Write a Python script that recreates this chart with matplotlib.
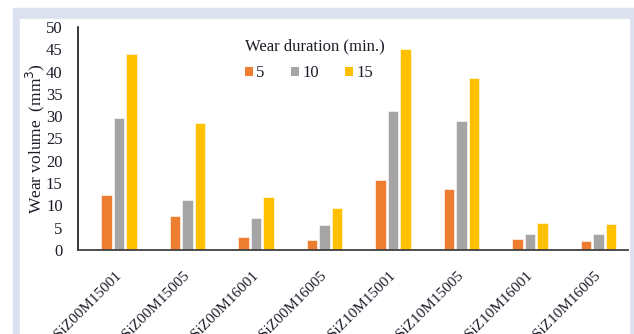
import matplotlib
matplotlib.use("Agg")
import matplotlib.pyplot as plt
import matplotlib.transforms as mtransforms
from matplotlib.patches import Rectangle, Patch
import numpy as np

plt.rcParams['font.family'] = ['Liberation Serif', 'DejaVu Serif']

samples = ["SiZ00M15001", "SiZ00M15005", "SiZ00M16001", "SiZ00M16005",
           "SiZ10M15001", "SiZ10M15005", "SiZ10M16001", "SiZ10M16005"]
durations = ["5", "10", "15"]
wear_5 = [12.4, 7.6, 3.0, 2.2, 15.8, 13.7, 2.5, 2.0]
wear_10 = [29.6, 11.3, 7.1, 5.5, 31.2, 29.0, 3.6, 3.6]
wear_15 = [43.9, 28.5, 11.8, 9.4, 45.1, 38.5, 6.0, 5.8]
y_ticks = [0, 5, 10, 15, 20, 25, 30, 35, 40, 45, 50]

colors = ["#ED7D31", "#A5A5A5", "#FFC000"]
text_color = "#1c1c28"

W, H = 634, 334
fig = plt.figure(figsize=(W / 100, H / 100), dpi=100)

# framed panel behind the chart
fig.patches.append(Rectangle((13 / W, 0), (W - 13) / W, (H - 8) / H,
                             transform=fig.transFigure, color="#dde0ee", zorder=-2))
fig.patches.append(Rectangle((20 / W, 0), (629 - 20) / W, (H - 19) / H,
                             transform=fig.transFigure, color="white", zorder=-1))

ax = fig.add_axes([78 / W, (H - 250) / H, 550 / W, 223 / H])
ax.patch.set_alpha(0)

x = np.arange(len(samples))
width = 0.153
step = 0.182
for i, (vals, c) in enumerate(zip([wear_5, wear_10, wear_15], colors)):
    ax.bar(x + (i - 1) * step, vals, width, color=c, edgecolor="white",
           linewidth=0.4, label=durations[i], zorder=2)

ax.set_xlim(-0.599, 7.43)
ax.set_ylim(0, 50)
ax.set_yticks(y_ticks)
ax.set_yticklabels([str(v) for v in y_ticks], fontsize=12, color=text_color)
ax.set_xticks(x)
ax.set_xticklabels(samples, rotation=45, ha="right", va="center",
                   rotation_mode="anchor", fontsize=11, color=text_color)
# nudge the slanted sample names a little to the left of each group
shift = mtransforms.ScaledTranslation(-7 / 100, 0, fig.dpi_scale_trans)
for lbl in ax.get_xticklabels():
    lbl.set_transform(lbl.get_transform() + shift)
ax.tick_params(axis="both", length=0)
ax.tick_params(axis="y", pad=11)
ax.tick_params(axis="x", pad=17)

for s in ["top", "right"]:
    ax.spines[s].set_visible(False)
ax.spines["left"].set_color("black")
ax.spines["left"].set_linewidth(1.1)
ax.spines["bottom"].set_color("#404040")
ax.spines["bottom"].set_linewidth(1.3)

ax.set_ylabel("Wear volume  (mm$^3$)", fontsize=12.5, color=text_color, labelpad=-0.5)

handles = [Patch(facecolor=c, edgecolor="none") for c in colors]
leg = fig.legend(handles, durations, title="Wear duration (min.)", ncol=3,
                 loc="upper left", bbox_to_anchor=(237 / W, 1 - 30 / H),
                 bbox_transform=fig.transFigure, frameon=False, borderpad=0,
                 fontsize=12, title_fontsize=12, handlelength=0.45,
                 handleheight=0.45, handletextpad=0.2, columnspacing=1.6,
                 labelspacing=0.65, alignment="left")
for t in leg.get_texts():
    t.set_color(text_color)
leg.get_title().set_color(text_color)

fig.savefig("out.png", dpi=100)
